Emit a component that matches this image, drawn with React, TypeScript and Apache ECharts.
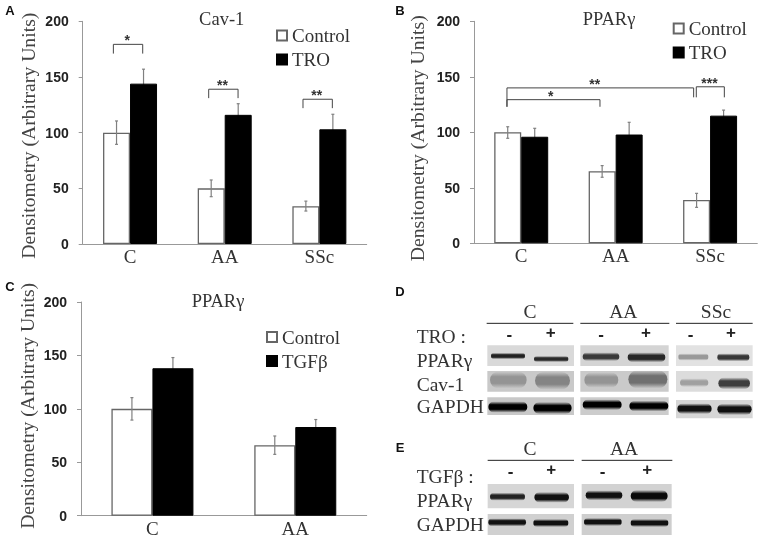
import React, { useEffect, useRef } from "react";
import * as echarts from "echarts";

const SERIF = "'Liberation Serif', serif";
const SANS = "'Liberation Sans', sans-serif";
const INK = "#333";
const AXIS_GREY = "#999";

// ---- chart data ----
const categoriesAB = ["C", "AA", "SSc"];
const categoriesC = ["C", "AA"];
const yTicksMax = 200;

const controlA = [100, 50, 34];
const troA = [144, 116, 103];
const controlAErr = [[89.5, 110.5], [42.5, 57.5], [29.6, 38.5]];
const troAErr = [[131, 157], [106, 126], [90, 116.5]];

const controlB = [100, 65, 39];
const troB = [96, 98, 115];
const controlBErr = [[94.6, 105], [59.5, 70], [32.4, 45]];
const troBErr = [[88, 103.6], [87, 109], [110, 120]];

const controlC = [100, 66];
const tgfC = [138, 83];
const controlCErr = [[89.5, 110.5], [57.4, 74.6]];
const tgfCErr = [[128, 148], [76, 90]];

// bracket: from / to (in category units), top value, left foot, right foot, stars
const bracketsA = [
  [0.324, 0.634, 179.3, 171, 171, "*"],
  [1.331, 1.641, 139, 131, 131, "**"],
  [2.327, 2.637, 130, 122, 122, "**"],
];
const bracketsB = [
  [0.349, 2.326, 140, 123, 131.5, "**"],
  [0.349, 1.334, 129.4, 123, 123, "*"],
  [2.354, 2.651, 141, 131.5, 131.5, "***"],
];

// ---- blot layout, in units of a 3x crop whose origin is (390, 280) ----
const zx = (x: number) => 390 + x / 3;
const zy = (y: number) => 280 + y / 3;
const gels = [
  [292, 552, 196, 258, "#d9d9d9"], [571, 836, 196, 258, "#d4d4d4"], [858, 1088, 196, 258, "#e2e2e2"],
  [292, 552, 273, 335, "#c9c9c9"], [571, 836, 273, 335, "#cacaca"], [858, 1088, 273, 335, "#dcdcdc"],
  [292, 552, 352, 405, "#c8c8c8"], [571, 836, 352, 405, "#cccccc"], [858, 1088, 360, 415, "#d6d6d6"],
  [293, 552, 612, 685, "#d6d6d6"], [575, 845, 612, 685, "#d2d2d2"],
  [293, 552, 702, 765, "#d0d0d0"], [575, 845, 702, 765, "#cecece"],
];
const bands = [
  [303, 405, 228, 13, "#222"], [432, 535, 237, 12, "#2a2a2a"],
  [578, 688, 230, 20, "#3a3a3a"], [713, 826, 232, 24, "#282828"],
  [865, 955, 231, 16, "#999"], [982, 1078, 232, 18, "#383838"],
  [300, 410, 300, 44, "#949494"], [435, 540, 302, 48, "#848484"],
  [583, 685, 300, 40, "#949494"], [715, 832, 298, 48, "#707070"],
  [870, 955, 308, 20, "#a0a0a0"], [985, 1080, 310, 30, "#3e3e3e"],
  [295, 412, 381, 28, "#000"], [430, 545, 384, 30, "#000"],
  [578, 695, 374, 26, "#000"], [718, 835, 378, 26, "#000"],
  [862, 965, 386, 26, "#111"], [982, 1085, 388, 28, "#111"],
  [300, 405, 650, 18, "#222"], [433, 537, 652, 26, "#111"],
  [587, 697, 646, 24, "#111"], [722, 833, 648, 30, "#0a0a0a"],
  [295, 408, 727, 18, "#111"], [430, 535, 729, 18, "#111"],
  [582, 695, 726, 18, "#111"], [722, 835, 729, 18, "#111"],
];
const rules = [
  [290, 550, 130], [571, 838, 130], [858, 1088, 130],
  [293, 552, 541], [575, 847, 541],
];
const blotTexts = [
  ["C", 420, 95, "middle"], ["AA", 700, 95, "middle"], ["SSc", 978, 95, "middle"],
  ["C", 420, 505, "middle"], ["AA", 702, 505, "middle"],
  ["TRO :", 80, 168, "left"], ["PPARγ", 80, 240, "left"], ["Cav-1", 80, 312, "left"], ["GAPDH", 80, 380, "left"],
  ["TGFβ :", 80, 590, "left"], ["PPARγ", 80, 660, "left"], ["GAPDH", 80, 732, "left"],
];
const signs = [
  ["-", 358, 163], ["+", 482, 158], ["-", 633, 163], ["+", 768, 158], ["-", 902, 163], ["+", 1023, 158],
  ["-", 362, 573], ["+", 484, 569], ["-", 638, 573], ["+", 772, 569],
];
const panelLetters = [
  ["A", 10, 10], ["B", 400, 10], ["C", 10, 286], ["D", 400, 291], ["E", 400, 447],
];

function errorSeries(ax: number, errs: number[][], side: number, barW: number, z: number) {
  return {
    type: "custom",
    xAxisIndex: ax,
    yAxisIndex: ax,
    z,
    silent: true,
    data: errs.map((e, i) => [i, e[0], e[1]]),
    encode: { x: 0, y: [1, 2] },
    renderItem: (_: any, api: any) => {
      const c = api.coord([api.value(0), api.value(2)]);
      const l = api.coord([api.value(0), api.value(1)]);
      const x = c[0] + (side * barW) / 2;
      const s = { stroke: "#808080", lineWidth: 1.2, fill: "none" };
      return {
        type: "group",
        children: [
          { type: "line", shape: { x1: x, y1: c[1], x2: x, y2: l[1] }, style: s },
          { type: "line", shape: { x1: x - 1.5, y1: c[1], x2: x + 1.5, y2: c[1] }, style: s },
          { type: "line", shape: { x1: x - 1.5, y1: l[1], x2: x + 1.5, y2: l[1] }, style: s },
        ],
      };
    },
  };
}

function bracketSeries(ax: number, list: any[]) {
  return {
    type: "custom",
    xAxisIndex: ax,
    yAxisIndex: ax,
    z: 6,
    silent: true,
    data: list.map((b, i) => [i, b[2]]),
    encode: { x: 0, y: 1 },
    renderItem: (p: any, api: any) => {
      const b = list[p.dataIndex];
      const band = api.size([1, 0])[0];
      const start = api.coord([0, 0])[0] - band / 2;
      const x0 = start + b[0] * band;
      const x1 = start + b[1] * band;
      const yTop = api.coord([0, b[2]])[1];
      const yL = api.coord([0, b[3]])[1];
      const yR = api.coord([0, b[4]])[1];
      return {
        type: "group",
        children: [
          {
            type: "polyline",
            shape: { points: [[x0, yL], [x0, yTop], [x1, yTop], [x1, yR]] },
            style: { stroke: "#444", lineWidth: 1, fill: "none" },
          },
          {
            type: "text",
            style: {
              x: x0 + (x1 - x0) * 0.47,
              y: yTop + 3,
              text: b[5],
              font: `bold 14px ${SANS}`,
              fill: "#333",
              align: "center",
              verticalAlign: "bottom",
            },
          },
        ],
      };
    },
  };
}

function barSeries(name: string, ax: number, values: number[], filled: boolean, barW: number) {
  return {
    type: "bar",
    name,
    xAxisIndex: ax,
    yAxisIndex: ax,
    data: values,
    barWidth: barW,
    barGap: "0%",
    z: 3,
    itemStyle: filled
      ? { color: "#000", borderColor: "#000", borderWidth: 1 }
      : { color: "#fff", borderColor: "#666", borderWidth: 1.3 },
  };
}

function xAxis(grid: number, data: string[]) {
  return {
    type: "category",
    gridIndex: grid,
    data,
    axisLine: { lineStyle: { color: AXIS_GREY, width: 1 } },
    axisTick: { length: 4, lineStyle: { color: AXIS_GREY }, alignWithLabel: false },
    axisLabel: { fontFamily: SERIF, fontSize: 19, color: INK, margin: 3 },
  };
}

function yAxis(grid: number, nameGap: number, padding: number[]) {
  return {
    type: "value",
    gridIndex: grid,
    min: 0,
    max: yTicksMax,
    interval: 50,
    name: "Densitometry (Arbitrary Units)",
    nameLocation: "middle",
    nameRotate: 90,
    nameGap,
    nameTextStyle: { fontFamily: SERIF, fontSize: 19.7, color: "#444", padding },
    splitLine: { show: false },
    axisLine: { show: true, lineStyle: { color: AXIS_GREY, width: 1 } },
    axisTick: { show: true, length: 4, lineStyle: { color: AXIS_GREY } },
    axisLabel: { fontFamily: SANS, fontWeight: "bold", fontSize: 14, color: "#222", margin: 14 },
  };
}

function legend(names: string[], left: number, top: number) {
  return {
    data: names.map((name) => ({ name, icon: "rect" })),
    left,
    top,
    orient: "vertical",
    padding: 0,
    itemGap: 5,
    itemWidth: 10,
    itemHeight: 10,
    selectedMode: false,
    textStyle: { fontFamily: SERIF, fontSize: 19, color: INK, padding: [0, 0, 0, 0] },
  };
}

function title(text: string, x: number, y: number) {
  return {
    text,
    left: x,
    top: y,
    padding: 0,
    textAlign: "center",
    textVerticalAlign: "middle",
    textStyle: { fontFamily: SERIF, fontWeight: "normal", fontSize: 18.5, color: INK },
  };
}

function blotGraphics() {
  const out: any[] = [];
  gels.forEach((g: any) => {
    out.push({
      type: "rect",
      shape: { x: zx(g[0]), y: zy(g[2]), width: (g[1] - g[0]) / 3, height: (g[3] - g[2]) / 3 },
      style: { fill: g[4] },
    });
  });
  bands.forEach((b: any) => {
    const h = b[3] / 3 + 2;
    const fade = echarts.color.modifyAlpha(b[4], 0);
    out.push({
      type: "rect",
      shape: { x: zx(b[0]), y: zy(b[2]) - h / 2, width: (b[1] - b[0]) / 3, height: h, r: h / 2 },
      style: {
        fill: {
          type: "linear", x: 0, y: 0, x2: 0, y2: 1,
          colorStops: [
            { offset: 0, color: fade },
            { offset: 0.3, color: b[4] },
            { offset: 0.7, color: b[4] },
            { offset: 1, color: fade },
          ],
        },
      },
    });
  });
  rules.forEach((r) => {
    out.push({
      type: "line",
      shape: { x1: zx(r[0]), y1: zy(r[2]), x2: zx(r[1]), y2: zy(r[2]) },
      style: { stroke: "#222", lineWidth: 1 },
    });
  });
  blotTexts.forEach((t: any) => {
    out.push({
      type: "text",
      x: zx(t[1]),
      y: zy(t[2]),
      style: {
        text: t[0],
        font: `19.5px ${SERIF}`,
        fill: INK,
        align: t[3] === "left" ? "left" : "center",
        verticalAlign: "middle",
      },
    });
  });
  signs.forEach((t: any) => {
    out.push({
      type: "text",
      x: zx(t[1]),
      y: zy(t[2]),
      style: { text: t[0], font: `bold 17px ${SANS}`, fill: "#222", align: "center", verticalAlign: "middle" },
    });
  });
  panelLetters.forEach((t: any) => {
    out.push({
      type: "text",
      x: t[1],
      y: t[2],
      style: { text: t[0], font: `bold 13px ${SANS}`, fill: "#111", align: "center", verticalAlign: "middle" },
    });
  });
  return out;
}

export default function App() {
  const ref = useRef<HTMLDivElement>(null);
  useEffect(() => {
    const chart = echarts.init(ref.current!, undefined, { renderer: "svg" });
    chart.setOption({
      animation: false,
      backgroundColor: "#fff",
      title: [
        title("Cav-1", 221.7, 19),
        title("PPARγ", 609, 19),
        title("PPARγ", 218, 300.7),
      ],
      grid: [
        { left: 82.7, top: 21.3, width: 284, height: 222.7 },
        { left: 474, top: 21.3, width: 283.3, height: 222 },
        { left: 81, top: 302, width: 285.7, height: 213.7 },
      ],
      legend: [
        legend(["Control", "TRO"], 276, 26),
        legend(["Control", "TRO"], 672.7, 19),
        legend(["Control", "TGFβ"], 266, 327.5),
      ],
      xAxis: [xAxis(0, categoriesAB), xAxis(1, categoriesAB), xAxis(2, categoriesC)],
      yAxis: [yAxis(0, 45, [0, 6, 0, 0]), yAxis(1, 47, [0, 12, 0, 0]), yAxis(2, 44, [0, 0, 0, 6])],
      series: [
        errorSeries(0, troAErr, 1, 27, 2),
        barSeries("Control", 0, controlA, false, 27),
        barSeries("TRO", 0, troA, true, 27),
        errorSeries(0, controlAErr, -1, 27, 5),
        bracketSeries(0, bracketsA),

        errorSeries(1, troBErr, 1, 27, 2),
        barSeries("Control", 1, controlB, false, 27),
        barSeries("TRO", 1, troB, true, 27),
        errorSeries(1, controlBErr, -1, 27, 5),
        bracketSeries(1, bracketsB),

        errorSeries(2, tgfCErr, 1, 41, 2),
        barSeries("Control", 2, controlC, false, 41),
        barSeries("TGFβ", 2, tgfC, true, 41),
        errorSeries(2, controlCErr, -1, 41, 5),
      ],
      graphic: { elements: blotGraphics() },
    });
    return () => chart.dispose();
  }, []);
  return (
    <div
      ref={ref}
      style={{ position: "absolute", left: 0, top: 0, width: 761, height: 538, filter: "blur(0.45px)" }}
    />
  );
}
